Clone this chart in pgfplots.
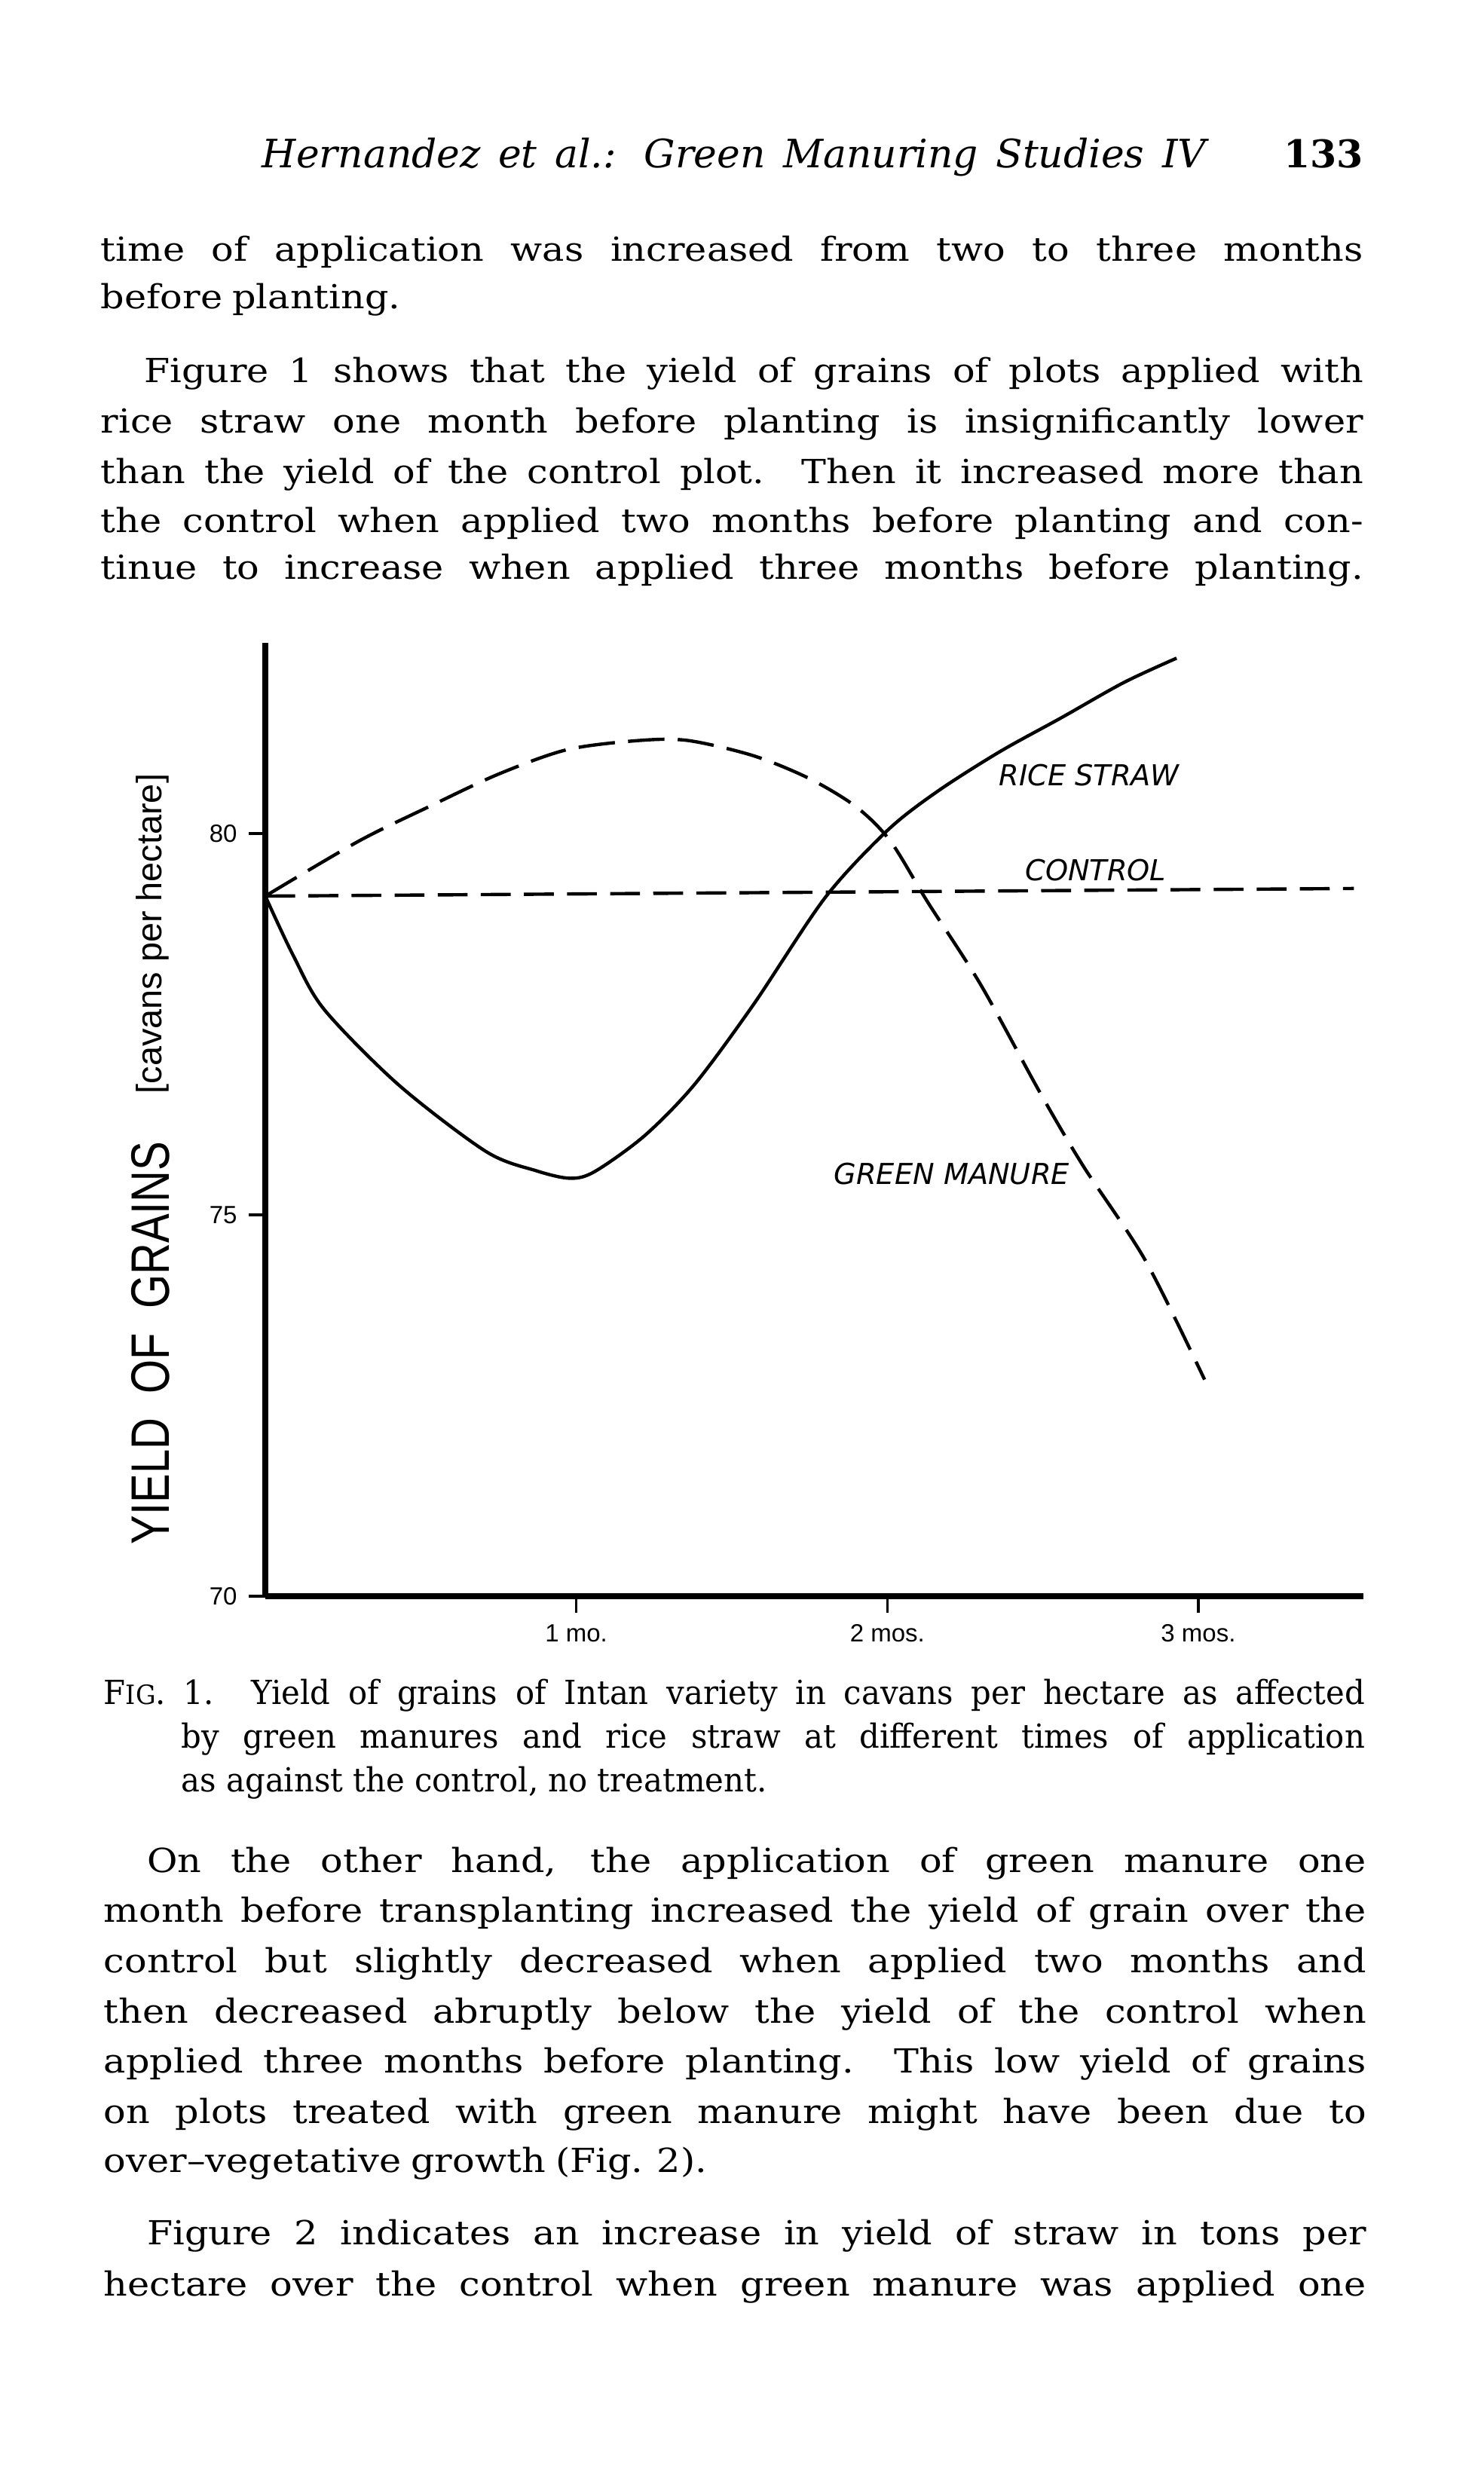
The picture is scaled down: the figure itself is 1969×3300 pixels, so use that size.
\documentclass[border=0pt]{standalone}
\usepackage{fontspec}
\usepackage{graphicx}
\usepackage{pgfplots}
\pgfplotsset{compat=1.18}
\setmainfont{DejaVu Serif}[FakeStretch=1.12]
\newfontfamily\capfont{DejaVu Serif}[FakeStretch=0.95]
\newfontfamily\hdfont{DejaVu Serif}
\newfontfamily\lblfont{DejaVu Sans}
\newfontfamily\axfont{Liberation Sans}
\newlength\W \setlength\W{380.7pt}
\newcommand\bodyfont{\rmfamily\fontsize{10}{12}\selectfont\spaceskip=.3em plus 1em minus .12em\relax}
\newcommand\jl[1]{\hbox to \W{\bodyfont #1}}
\newcommand\jli[1]{\hbox to \W{\bodyfont\hskip 13pt #1}}
\newcommand\jll[1]{\hbox{\bodyfont #1}}
\newcommand\capf{\capfont\fontsize{10}{12}\selectfont\spaceskip=.3em plus 1em minus .1em\relax}
\begin{document}
\begin{tikzpicture}[x=0.2273pt,y=0.2273pt]
\fill[white] (0,0) rectangle (1969,3300);
\path[use as bounding box] (0,0) rectangle (1969,3300);
\coordinate (O) at (352,{3300-2118});
% header
\node[anchor=base west,inner sep=0pt] at (347,{3300-223}) {\hbox to 284.6pt{\hdfont\itshape\fontsize{11.8}{14}\selectfont\spaceskip=.3em plus 1em minus .1em\relax Hernandez et al.: Green Manuring Studies IV}};
\node[anchor=base east,inner sep=0pt] at (1810,{3300-223}) {\hdfont\bfseries\fontsize{11.5}{14}\selectfont 133};
% paragraph 1
\node[anchor=base west,inner sep=0pt] at (133,{3300-347}) {\jl{time of application was increased from two to three months}};
\node[anchor=base west,inner sep=0pt] at (133,{3300-410}) {\jll{before planting.}};
% paragraph 2
\node[anchor=base west,inner sep=0pt] at (133,{3300-508}) {\jli{Figure 1 shows that the yield of grains of plots applied with}};
\node[anchor=base west,inner sep=0pt] at (133,{3300-575}) {\jl{rice straw one month before planting is insignificantly lower}};
\node[anchor=base west,inner sep=0pt] at (133,{3300-642}) {\jl{than the yield of the control plot.\ \ Then it increased more than}};
\node[anchor=base west,inner sep=0pt] at (133,{3300-707}) {\jl{the control when applied two months before planting and con-}};
\node[anchor=base west,inner sep=0pt] at (133,{3300-769}) {\jl{tinue to increase when applied three months before planting.}};
% caption
\node[anchor=base west,inner sep=0pt] at (137,{3300-2262}) {\hbox to 380.3pt{\capf F{\fontsize{8}{8}\selectfont IG}. 1. Yield of grains of Intan variety in cavans per hectare as affected}};
\node[anchor=base west,inner sep=0pt] at (240,{3300-2320}) {\hbox to 356.9pt{\capf by green manures and rice straw at different times of application}};
\node[anchor=base west,inner sep=0pt] at (240,{3300-2378}) {\hbox{\capf as against the control, no treatment.}};
% paragraph 3
\node[anchor=base west,inner sep=0pt] at (137,{3300-2485}) {\jli{On the other hand, the application of green manure one}};
\node[anchor=base west,inner sep=0pt] at (137,{3300-2551}) {\jl{month before transplanting increased the yield of grain over the}};
\node[anchor=base west,inner sep=0pt] at (137,{3300-2618}) {\jl{control but slightly decreased when applied two months and}};
\node[anchor=base west,inner sep=0pt] at (137,{3300-2685}) {\jl{then decreased abruptly below the yield of the control when}};
\node[anchor=base west,inner sep=0pt] at (137,{3300-2751}) {\jl{applied three months before planting.\ \ This low yield of grains}};
\node[anchor=base west,inner sep=0pt] at (137,{3300-2818}) {\jl{on plots treated with green manure might have been due to}};
\node[anchor=base west,inner sep=0pt] at (137,{3300-2883}) {\jll{over–vegetative growth (Fig. 2).}};
% paragraph 4
\node[anchor=base west,inner sep=0pt] at (137,{3300-2979}) {\jli{Figure 2 indicates an increase in yield of straw in tons per}};
\node[anchor=base west,inner sep=0pt] at (137,{3300-3047}) {\jl{hectare over the control when green manure was applied one}};
% y-axis label
\node[rotate=90,inner sep=0pt] at (200,{3300-1782}) {\resizebox{121.6pt}{11.4pt}{\axfont YIELD\ \ OF\ \ GRAINS}};
\node[rotate=90,inner sep=0pt] at (202,{3300-1239}) {\resizebox{96.4pt}{!}{\axfont\fontsize{11}{12}\selectfont [cavans per hectare]}};
\begin{axis}[
  at={(O)}, anchor=south west,
  scale only axis, width=331.1pt, height=287.5pt,
  xmin=0, xmax=3.53, ymin=70, ymax=82.5,
  axis x line=bottom, axis y line=left,
  axis line style={-, line width=1.6pt},
  xtick={1,2,3}, xticklabels={1 mo.,2 mos.,3 mos.},
  ytick={70,75,80}, yticklabels={70,75,80},
  tick align=outside, major tick length=5pt,
  tick style={black, line width=0.8pt},
  tick label style={font=\axfont\fontsize{7.5}{8}\selectfont},
  clip=false,
]
\addplot[black, line width=1.0pt, smooth, tension=0.5] coordinates {
 (0,79.18) (0.09,78.40) (0.19,77.69) (0.43,76.70) (0.71,75.83) (0.87,75.58) (0.98,75.48)
 (1.06,75.57) (1.22,76.04) (1.38,76.71) (1.57,77.76) (1.80,79.16) (2.00,80.04)
 (2.16,80.55) (2.36,81.07) (2.56,81.52) (2.76,81.98) (2.93,82.30)};
\addplot[black, line width=1.0pt, smooth, tension=0.5, dash pattern=on 11pt off 4pt] coordinates {
 (0,79.18) (0.30,79.90) (0.53,80.36) (0.75,80.78) (0.97,81.10) (1.20,81.22)
 (1.36,81.22) (1.57,81.02) (1.75,80.72) (1.90,80.35) (2.01,79.90) (2.13,79.10)
 (2.30,78.02) (2.49,76.61) (2.63,75.64) (2.83,74.40) (3.02,72.84)};
\addplot[black, line width=1.0pt, dash pattern=on 9pt off 4pt] coordinates {
 (0,79.18) (3.50,79.28)};
\node[font=\lblfont\itshape\fontsize{8.7}{9}\selectfont] at (axis cs:2.648,80.77) {RICE STRAW};
\node[font=\lblfont\itshape\fontsize{8.7}{9}\selectfont] at (axis cs:2.670,79.52) {CONTROL};
\node[font=\lblfont\itshape\fontsize{8.7}{9}\selectfont] at (axis cs:2.207,75.54) {GREEN MANURE};
\end{axis}
\end{tikzpicture}
\end{document}
